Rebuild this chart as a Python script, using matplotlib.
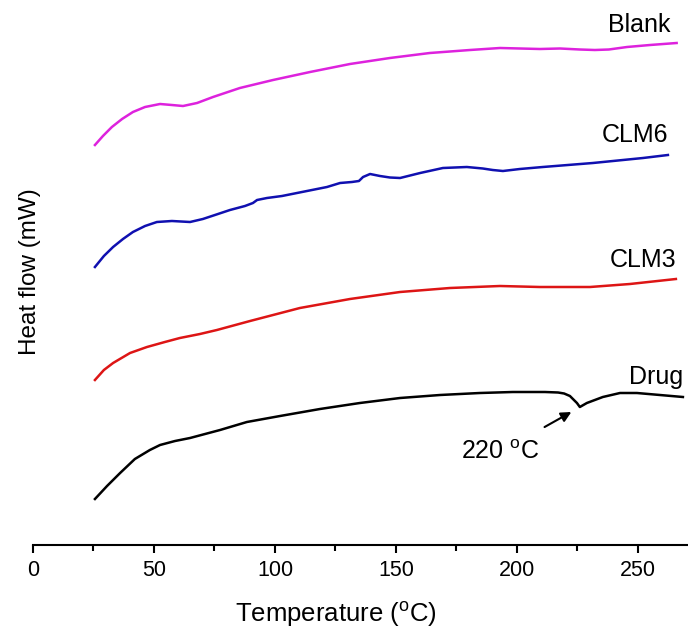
import matplotlib
matplotlib.use('Agg')
from matplotlib import pyplot as plt

plt.rcParams['font.family'] = ['Liberation Sans', 'DejaVu Sans']
plt.rcParams['mathtext.fontset'] = 'custom'
plt.rcParams['mathtext.rm'] = 'Liberation Sans'

# DSC curves, heat flow in arbitrary units (offset per sample)
blank_t = [25.6, 28.9, 32.6, 36.8, 41.3, 46.3, 52.5, 57.4, 62, 67.8, 74.4, 85.5, 99.2, 114.5, 131, 147.5,
           164, 180.6, 193, 209.5, 217.8, 226, 232.2, 238, 245.5, 255, 266]
blank_h = [40.0, 40.9, 41.8, 42.6, 43.3, 43.8, 44.1, 44.0, 43.9, 44.2, 44.8, 45.7, 46.5, 47.3, 48.1, 48.7,
           49.2, 49.5, 49.7, 49.6, 49.65, 49.55, 49.5, 49.55, 49.8, 50.0, 50.2]

clm6_t = [25.6, 29.3, 33.1, 37.2, 41.3, 46.3, 51.2, 57.4, 64.9, 70.2, 75.2, 81.4, 87.6, 90.9, 92.6, 96.7,
          102.9, 109.1, 115.3, 121.5, 126.9, 131.8, 134.7, 136.4, 139.3, 143.4, 147.5, 151.7, 160, 169.4,
          179.3, 185.9, 190, 194.2, 201.2, 210.7, 231.4, 252.1, 262.4]
clm6_h = [27.8, 28.9, 29.8, 30.6, 31.3, 31.9, 32.3, 32.4, 32.3, 32.6, 33.0, 33.5, 33.9, 34.2, 34.5, 34.7,
          34.9, 35.2, 35.5, 35.8, 36.2, 36.3, 36.4, 36.8, 37.1, 36.9, 36.75, 36.7, 37.2, 37.7,
          37.8, 37.65, 37.5, 37.4, 37.6, 37.8, 38.2, 38.7, 39.0]

clm3_t = [25.6, 29.3, 33.1, 40.1, 47.1, 54.5, 60.7, 69, 76, 89.7, 110.3, 131, 151.7, 172.3, 193, 209.5,
          230.2, 246.7, 265.7]
clm3_h = [16.5, 17.5, 18.2, 19.2, 19.8, 20.3, 20.7, 21.1, 21.5, 22.4, 23.7, 24.6, 25.3, 25.7, 25.9, 25.8,
          25.8, 26.1, 26.6]

drug_t = [25.6, 30.6, 36, 42.1, 48.3, 52.5, 58.7, 64.9, 71.1, 77.3, 88.4, 102.1, 118.6, 135.1, 151.7, 168.2,
          184.7, 198.3, 211.6, 217, 219.5, 221.9, 224.8, 226, 228.9, 232.2, 235.5, 242.6, 249.6, 259.1, 268.6]
drug_h = [4.6, 5.9, 7.2, 8.6, 9.5, 10.0, 10.4, 10.7, 11.1, 11.5, 12.3, 12.9, 13.6, 14.2, 14.7, 15.0,
          15.2, 15.3, 15.3, 15.25, 15.15, 14.9, 14.2, 13.8, 14.2, 14.5, 14.8, 15.2, 15.2, 15.0, 14.8]

xticks = [0, 50, 100, 150, 200, 250]

fig = plt.figure(figsize=(6.88, 6.28), dpi=100)
ax = fig.add_axes([33/688, 83/628, 655/688, 545/628])

ax.plot(blank_t, blank_h, color='#dd22dd', lw=1.8)
ax.plot(clm6_t, clm6_h, color='#1010b0', lw=1.8)
ax.plot(clm3_t, clm3_h, color='#dd1515', lw=1.8)
ax.plot(drug_t, drug_h, color='black', lw=1.8)

ax.text(263.3, 52.0, 'Blank', ha='right', va='center', fontsize=18)
ax.text(262.4, 41.0, 'CLM6', ha='right', va='center', fontsize=18)
ax.text(265.7, 28.5, 'CLM3', ha='right', va='center', fontsize=18)
ax.text(268.6, 16.8, 'Drug', ha='right', va='center', fontsize=18)

ax.annotate('220 $^{\\mathrm{o}}$C', xy=(222.5, 13.3), xytext=(193, 9.3),
            ha='center', va='center', fontsize=18,
            arrowprops=dict(arrowstyle='-|>', color='black', lw=1.5,
                            mutation_scale=15, shrinkA=15, shrinkB=0))

ax.set_xlim(0, 270.7)
ax.set_ylim(0, 54.5)
ax.set_xticks(xticks)
ax.set_xticks([25, 75, 125, 175, 225], minor=True)
ax.set_yticks([])
for s in ['left', 'right', 'top']:
    ax.spines[s].set_visible(False)
ax.spines['bottom'].set_linewidth(1.5)
ax.tick_params(axis='x', which='major', length=6, width=1.5, labelsize=15.5, pad=5)
ax.tick_params(axis='x', which='minor', length=4, width=1.5)
ax.set_xlabel('Temperature ($^{\\mathrm{o}}$C)', fontsize=18.5)
ax.xaxis.set_label_coords((336 - 33) / 655, (545 - 614) / 545)
ax.xaxis.label.set_va('center')
fig.text(30/688, 1 - 272/628, 'Heat flow (mW)', rotation=90, ha='center', va='center', fontsize=17.5)

fig.savefig('out.png', dpi=100)
